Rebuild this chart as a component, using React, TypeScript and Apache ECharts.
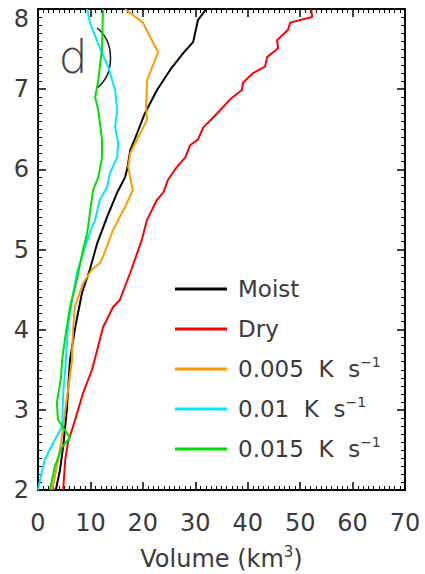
import React, { useEffect, useRef } from "react";
import * as echarts from "echarts";

// Heights (km) and volumes (km^3)
const moistHeight = [8.0, 7.86, 7.59, 7.45, 7.24, 6.99, 6.7, 6.45, 6.24, 6.0, 5.9, 5.71, 5.41, 5.08, 4.75, 4.46, 4.03, 3.62, 3.0, 2.54, 2.25, 2.0];
const moistVol = [32.1, 30.5, 29.6, 27.7, 25.2, 22.7, 20.4, 18.9, 17.6, 17.0, 16.6, 15.1, 13.2, 11.3, 9.9, 8.4, 7.1, 6.1, 5.5, 4.8, 4.2, 3.4];

const dryHeight = [8.0, 7.9, 7.83, 7.74, 7.61, 7.51, 7.4, 7.28, 7.2, 7.08, 6.99, 6.87, 6.7, 6.52, 6.37, 6.3, 6.15, 6.03, 5.87, 5.71, 5.62, 5.37, 5.12, 4.71, 4.37, 4.28, 4.03, 3.75, 3.5, 3.21, 2.88, 2.59, 2.38, 2.0];
const dryVol = [52.1, 52.3, 48.1, 47.7, 45.6, 45.8, 43.7, 43.3, 41.0, 39.1, 38.9, 36.6, 34.2, 31.5, 30.5, 29.0, 28.1, 26.5, 24.8, 23.9, 22.7, 20.8, 19.8, 17.6, 15.6, 14.3, 12.4, 11.3, 10.3, 8.6, 7.1, 5.7, 5.2, 4.8];

const h005Height = [8.0, 7.83, 7.46, 7.11, 6.78, 6.62, 6.2, 6.03, 5.8, 5.74, 5.53, 5.24, 4.91, 4.83, 4.75, 4.58, 4.28, 4.0, 3.71, 3.62, 3.0, 2.59, 2.29, 2.0];
const h005Vol = [16.6, 20.0, 22.9, 20.8, 20.6, 20.8, 17.6, 17.2, 17.9, 18.1, 16.6, 14.3, 12.4, 11.8, 10.3, 8.6, 7.0, 6.7, 6.5, 6.5, 5.2, 4.4, 3.6, 2.7];

const h01Height = [8.0, 7.83, 7.45, 7.28, 6.99, 6.74, 6.53, 6.33, 6.15, 5.95, 5.78, 5.62, 5.37, 5.21, 5.03, 4.71, 4.37, 4.03, 3.5, 3.21, 2.79, 2.59, 2.38, 2.13, 2.0];
const h01Vol = [9.4, 9.9, 12.2, 13.4, 14.7, 15.1, 14.7, 15.3, 15.1, 13.7, 13.2, 11.8, 10.9, 9.9, 9.0, 7.4, 6.5, 5.7, 5.2, 4.8, 4.6, 2.9, 1.3, 0.4, 0.0];

const h015Height = [8.0, 7.49, 7.28, 7.11, 6.9, 6.74, 6.37, 6.15, 5.9, 5.74, 5.46, 5.21, 5.0, 4.62, 4.28, 3.91, 3.62, 3.41, 3.09, 2.88, 2.65, 2.54, 2.29, 2.0];
const h015Vol = [12.4, 12.2, 11.8, 11.5, 10.9, 11.5, 12.2, 12.2, 11.5, 10.5, 9.9, 9.4, 8.6, 7.4, 6.1, 5.2, 4.6, 4.4, 3.6, 3.8, 6.1, 4.6, 3.2, 2.3];

const seriesNames = ["Moist", "Dry", "0.005", "0.01", "0.015"];
const legendLabels = ["Moist", "Dry", "0.005  K  s{sup|−1}", "0.01  K  s{sup|−1}", "0.015  K  s{sup|−1}"];
const seriesColors = ["#000000", "#ff0000", "#ff9a00", "#00e8ff", "#00e000"];
const seriesHeights = [moistHeight, dryHeight, h005Height, h01Height, h015Height];
const seriesVols = [moistVol, dryVol, h005Vol, h01Vol, h015Vol];

const xTicks = { min: 0, max: 70, interval: 10 };
const yTicks = { min: 2, max: 8, interval: 1 };

const FONT = "DejaVu Sans";
const TEXT = "#3a3a3a";

export default function App() {
  const ref = useRef<HTMLDivElement>(null);
  useEffect(() => {
    if (!ref.current) return;
    const chart = echarts.init(ref.current, null, { renderer: "svg" });
    const axisCommon = {
      type: "value",
      splitLine: { show: false },
      axisLine: { show: true, onZero: false, lineStyle: { color: "#000", width: 2 } },
      axisTick: { show: true, inside: true, length: 8, lineStyle: { color: "#000", width: 1.5 } },
      minorTick: { show: true, splitNumber: 10, length: 4, lineStyle: { color: "#000", width: 1 } },
    };
    const option = {
      animation: false,
      grid: { left: 38, right: 20, top: 9, bottom: 84, containLabel: false, outerBoundsMode: "none" },
      xAxis: [
        {
          ...axisCommon,
          ...xTicks,
          position: "bottom",
          axisLabel: { fontSize: 24, color: TEXT, margin: 21, fontFamily: FONT },
          name: "Volume (km{sup|3})",
          nameLocation: "middle",
          nameGap: 54,
          nameTextStyle: {
            fontSize: 24,
            color: TEXT,
            fontFamily: FONT,
            lineHeight: 30,
            rich: { sup: { fontSize: 15, color: TEXT, fontFamily: FONT, verticalAlign: "top", lineHeight: 17 } },
          },
        },
        { ...axisCommon, ...xTicks, position: "top", axisLabel: { show: false } },
      ],
      yAxis: [
        {
          ...axisCommon,
          ...yTicks,
          position: "left",
          axisLabel: {
            fontSize: 24,
            color: TEXT,
            margin: 9,
            fontFamily: FONT,
            formatter: (v: number) => (v === yTicks.max ? `{top|${v}}` : String(v)),
            rich: { top: { fontSize: 24, color: TEXT, fontFamily: FONT, padding: [20, 0, 0, 0] } },
          },
        },
        { ...axisCommon, ...yTicks, position: "right", axisLabel: { show: false } },
      ],
      legend: {
        orient: "vertical",
        left: 170,
        top: 270,
        itemWidth: 52,
        itemHeight: 3,
        itemGap: 12,
        icon: "rect",
        data: seriesNames,
        formatter: (name: string) => legendLabels[seriesNames.indexOf(name)],
        textStyle: {
          fontSize: 23,
          color: TEXT,
          fontFamily: FONT,
          lineHeight: 28,
          padding: [0, 0, 0, 6],
          rich: { sup: { fontSize: 14, color: TEXT, fontFamily: FONT, verticalAlign: "top", lineHeight: 14 } },
        },
      },
      graphic: [
        {
          type: "text",
          x: 73,
          y: 57,
          style: { text: "d", fontSize: 46, fontFamily: FONT, fontWeight: 200, fill: "#444", align: "center", verticalAlign: "middle" },
        },
        {
          type: "bezierCurve",
          shape: { x1: 97, y1: 28, x2: 97, y2: 88, cpx1: 115, cpy1: 42, cpx2: 115, cpy2: 74 },
          style: { stroke: "#111", lineWidth: 1.5, fill: null },
        },
      ],
      series: seriesNames.map((name, i) => ({
        name,
        type: "line",
        xAxisIndex: 0,
        yAxisIndex: 0,
        symbol: "none",
        showSymbol: false,
        color: seriesColors[i],
        lineStyle: { color: seriesColors[i], width: 2 },
        data: seriesVols[i].map((v, j) => [v, seriesHeights[i][j]]),
      })),
    };
    chart.setOption(option as any);
    return () => chart.dispose();
  }, []);
  return <div ref={ref} style={{ position: "absolute", left: 0, top: 0, width: 425, height: 574 }} />;
}
